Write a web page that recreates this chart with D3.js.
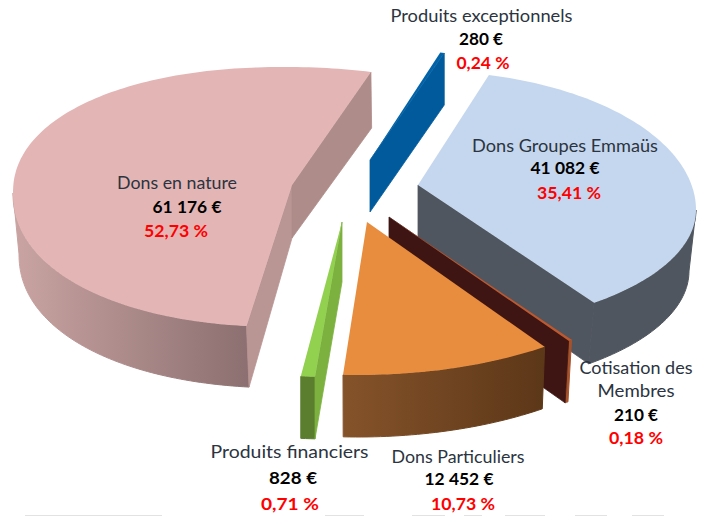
<!DOCTYPE html>
<html><head><meta charset="utf-8">
<style>html,body{margin:0;padding:0;background:#fff}svg{display:block}text{font-family:Lato,"Open Sans",sans-serif;text-anchor:middle}</style>
<script src="https://cdn.jsdelivr.net/npm/d3@7/dist/d3.min.js"></script>
</head><body><div id="c"></div>
<script>
// Data, in clockwise order from the top
const categories = ["Dons Groupes Emmaüs","Cotisation des Membres","Dons Particuliers","Produits financiers","Dons en nature","Produits exceptionnels"];
const amounts = [41082,210,12452,828,61176,280];

// Layout of each slice (perspective-fitted outline, apex correction, wall depths, angular correction in degrees)
const W=709,H=516;
const geom = [
 {cx:424,cy:210,rx:272,up:139,dn:119,p:1,ax:-6,ay:-25,d:61,ad:60,rot:0,base:{dx:-3,rx:-4}},
 {cx:382,cy:221,rx:318,up:148,dn:148,p:1,ax:7,ay:-4,d:62,ad:62,rot:2.15,base:{dx:0,rx:-6}},
 {cx:358,cy:227,rx:318,up:148,dn:148,p:1,ax:9,ay:-5,d:62,ad:62,rot:2.15,base:{dx:0,rx:-4}},
 {cx:330,cy:229,rx:318,up:148,dn:148,p:1,ax:12,ay:-7,d:62,ad:60,rot:2.15,base:{dx:0,rx:0}},
 {cx:285,cy:193,rx:272,up:126,dn:134,p:0.93,ax:7,ay:-8,d:61,ad:53,endD:56,rot:3.9,base:{dx:2,rx:-4}},
 {cx:369.5,cy:178,rx:272,up:130,dn:130,p:1,ax:0.5,ay:-18,d:52,ad:52,rot:2.15,base:{dx:0,rx:0}}
];
const paints = [
 {top:"#C5D7EE",wall:"#50565F",outer:["#50565F","#50565F"]},
 {top:"#C0582E",wall:"#3E1512",outer:["#A5522A","#A5522A"]},
 {top:"#E88C3E",wall:"#5C3718",outer:["#85532A","#5C3718"]},
 {top:"#92D050",wall:"#7CB13F",outer:["#5B7D2E","#5B7D2E"]},
 {top:"#E4B5B5",wall:"#B99593",endWall:"#AE8C89",outer:["#C9A4A2","#8C6F70"]},
 {top:"#0062A8",wall:"#005A9C",outer:["#005A9C","#005A9C"]}
];
// Text placement: centre x, centre y, fitted width of each line of each label
const labelLines = [
 [[[565,146,186]],[565,168,69],[569,193,64]],
 [[[636,368,113],[636,391,77]],[636,415,44],[636,438,54]],
 [[[458,457,133]],[459,479,69],[463,504,64]],
 [[[289.5,452,158]],[293,478,48],[290,504,58]],
 [[[177,183,120]],[187,207,69],[176,231,64]],
 [[[481.5,16,182]],[481,39,44],[483,63,53]]
];
const nameLines = [["Dons Groupes Emmaüs"],["Cotisation des","Membres"],["Dons Particuliers"],["Produits financiers"],["Dons en nature"],["Produits exceptionnels"]];
// Faint leftovers along the lower edge of the picture: [x, width]
const edgeMarks = [[25,137],[325,39],[412,33],[464,18],[505,40],[575,32],[632,32]];

const svg=d3.select("#c").append("svg").attr("width",W).attr("height",H);
const defs=svg.append("defs");
const total=d3.sum(amounts);
const fr=d3.formatLocale({decimal:",",thousands:" ",grouping:[3],currency:["","€"]});
const fmtEur=fr.format(",d"), fmtPct=fr.format(".2f");

const startDeg=13.8;
const arcs=d3.pie().sort(null).value(d=>d).startAngle(startDeg*Math.PI/180).endAngle((startDeg+360)*Math.PI/180)(amounts);
const line=d3.line();
const ordering=[4,5,0,1,2,3];

function pt(g,a,base,depth){ // a: clockwise from 12 o'clock
  const s=Math.sin(a), c=-Math.cos(a);
  const cx=g.cx+(base?g.base.dx:0), rx=g.rx+(base?g.base.rx:0), cy=g.cy+(base?(depth===undefined?g.d:depth):0);
  const xf=Math.sign(s)*Math.pow(Math.abs(s),g.p), yf=Math.sign(c)*Math.pow(Math.abs(c),g.p);
  return [cx+rx*xf, cy+(yf<0?g.up:g.dn)*yf];
}
function sweep(g,a0,a1,base){
  const n=Math.max(2,Math.ceil(Math.abs(a1-a0)/0.02));
  return d3.range(n+1).map(i=>pt(g,a0+(a1-a0)*i/n,base));
}
ordering.forEach(i=>{
  const g=geom[i],p=paints[i],arc=arcs[i];
  const r=g.rot*Math.PI/180;
  const a0=arc.startAngle+r,a1=arc.endAngle+r;
  const apex=[g.cx+g.ax,g.cy+g.ay], apexB=[apex[0],apex[1]+g.ad];
  const layer=svg.append("g").attr("data-cat",categories[i]);
  // outer wall: only the part facing the viewer (screen-lower half of the outline)
  const lo=Math.max(a0,Math.PI/2), hi=Math.min(a1,Math.PI*1.5);
  if(hi>lo){
    const gid="g"+i, top=sweep(g,lo,hi,false), bot=sweep(g,hi,lo,true);
    const xs=top.concat(bot).map(q=>q[0]);
    const grad=defs.append("linearGradient").attr("id",gid).attr("gradientUnits","userSpaceOnUse")
      .attr("x1",d3.min(xs)).attr("x2",d3.max(xs)).attr("y1",0).attr("y2",0);
    grad.append("stop").attr("offset",0).attr("stop-color",p.outer[0]);
    grad.append("stop").attr("offset",1).attr("stop-color",p.outer[1]);
    layer.append("path").attr("d",line(top.concat(bot))+"Z").attr("fill",`url(#${gid})`)
      .attr("stroke",`url(#${gid})`).attr("stroke-width",1);
  }
  // cut faces
  const face=(a,col,depth)=>layer.append("path")
    .attr("d",line([apex,pt(g,a,false),pt(g,a,true,depth),apexB])+"Z").attr("fill",col)
    .attr("stroke",col).attr("stroke-width",0.8);
  if(Math.sin(a0)<0) face(a0,p.wall);          // start edge faces viewer
  if(Math.sin(a1)>0) face(a1,p.endWall||p.wall,g.endD); // end edge faces viewer
  // top surface
  layer.append("path").attr("d",line([apex].concat(sweep(g,a0,a1,false)))+"Z").attr("fill",p.top);
});

// Labels
function t(pos,s,o){
  svg.append("text").attr("x",pos[0]).attr("y",pos[1]).attr("dy","0.35em").attr("font-size",o.b?17.8:18.2)
    .attr("textLength",pos[2]).attr("lengthAdjust","spacingAndGlyphs")
    .attr("font-weight",o.b?700:400).attr("fill",o.c).text(s);
}
categories.forEach((c,i)=>{
  const L=labelLines[i];
  nameLines[i].forEach((s,k)=>t(L[0][k],s,{c:"#2b3440"}));
  t(L[1],fmtEur(amounts[i])+" €",{b:1,c:"#000"});
  t(L[2],fmtPct(amounts[i]/total*100)+" %",{b:1,c:"#FF0000"});
});
svg.selectAll("rect.edge").data(edgeMarks).join("rect").attr("class","edge")
  .attr("x",d=>d[0]).attr("width",d=>d[1]).attr("y",515).attr("height",1).attr("fill","#E2E2E2");
</script></body></html>
